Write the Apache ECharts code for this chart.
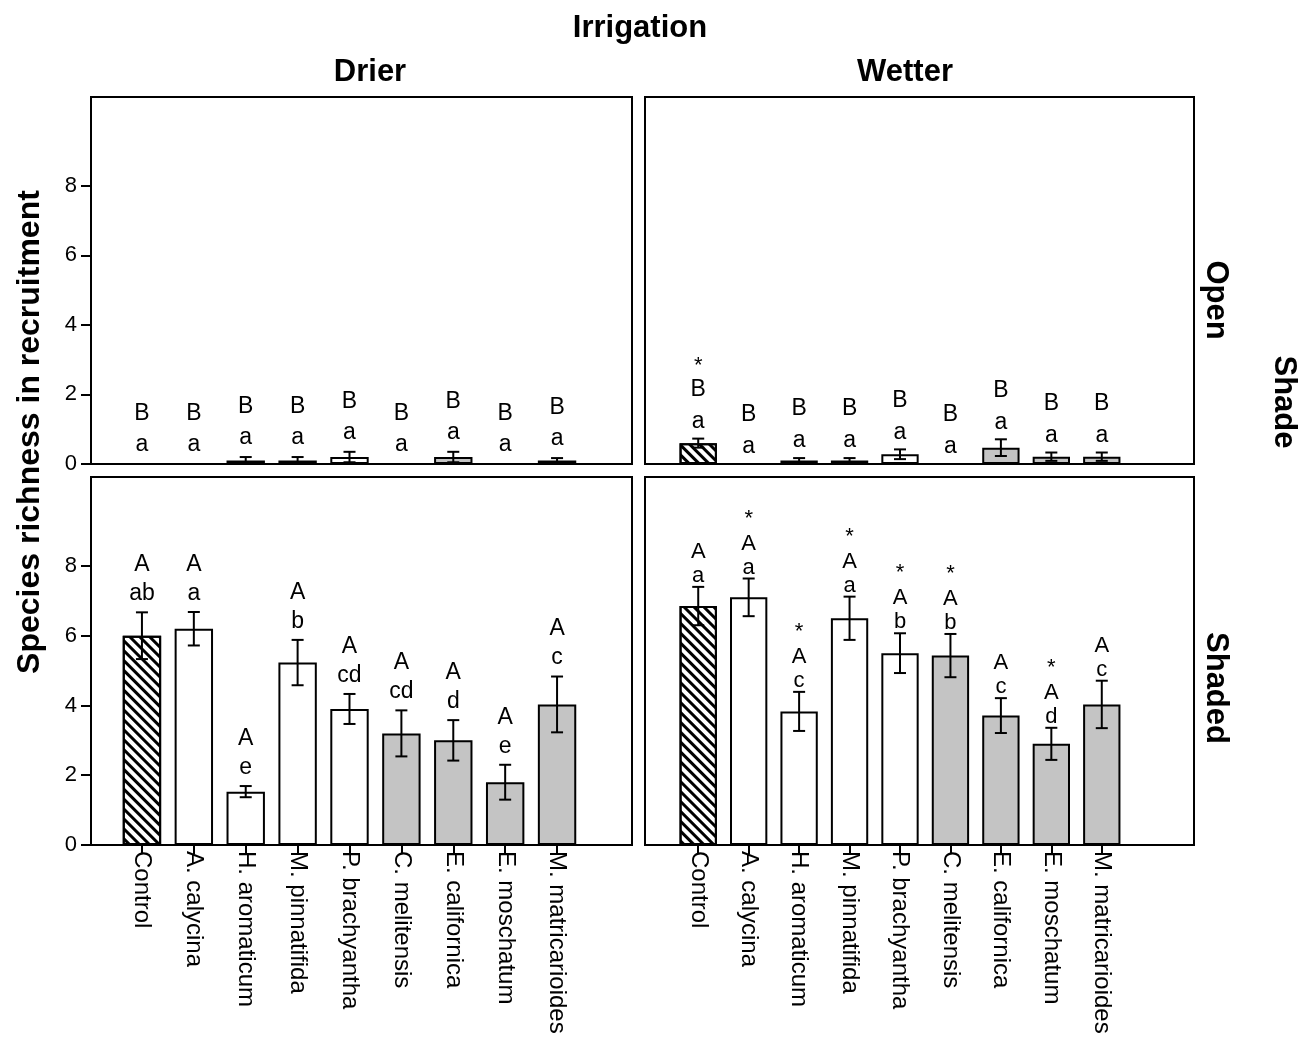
<!DOCTYPE html>
<html lang="en">
<head>
<meta charset="UTF-8" />
<title>Species richness in recruitment</title>
<script src="https://cdn.jsdelivr.net/npm/echarts@6/dist/echarts.min.js"></script>
<style>
  html, body { margin: 0; padding: 0; background: #fff; }
</style>
</head>
<body>
<div id="main" style="width: 1309px; height: 1038px"></div>
<script>
// species on the x axis
var species = ['Control', 'A. calycina', 'H. aromaticum', 'M. pinnatifida', 'P. brachyantha',
  'C. melitensis', 'E. californica', 'E. moschatum', 'M. matricarioides'];
// plant group of each species (decides fill)
var speciesType = ['control', 'white', 'white', 'white', 'white', 'grey', 'grey', 'grey', 'grey'];

// Open / Drier
var openDrier = [0, 0, 0.1, 0.1, 0.2, 0, 0.2, 0, 0.1];
var openDrierSE = [0, 0, 0.1, 0.1, 0.15, 0, 0.15, 0, 0.07];
var openDrierStar = ['', '', '', '', '', '', '', '', ''];
var openDrierUpper = ['B', 'B', 'B', 'B', 'B', 'B', 'B', 'B', 'B'];
var openDrierLower = ['a', 'a', 'a', 'a', 'a', 'a', 'a', 'a', 'a'];

// Open / Wetter
var openWetter = [0.6, 0, 0.1, 0.1, 0.28, 0, 0.47, 0.21, 0.21];
var openWetterSE = [0.13, 0, 0.07, 0.07, 0.14, 0, 0.24, 0.12, 0.12];
var openWetterStar = ['*', '', '', '', '', '', '', '', ''];
var openWetterUpper = ['B', 'B', 'B', 'B', 'B', 'B', 'B', 'B', 'B'];
var openWetterLower = ['a', 'a', 'a', 'a', 'a', 'a', 'a', 'a', 'a'];

// Shaded / Drier
var shadedDrier = [6.0, 6.2, 1.53, 5.23, 3.9, 3.2, 3.0, 1.8, 4.03];
var shadedDrierSE = [0.67, 0.48, 0.16, 0.65, 0.43, 0.66, 0.58, 0.5, 0.8];
var shadedDrierStar = ['', '', '', '', '', '', '', '', ''];
var shadedDrierUpper = ['A', 'A', 'A', 'A', 'A', 'A', 'A', 'A', 'A'];
var shadedDrierLower = ['ab', 'a', 'e', 'b', 'cd', 'cd', 'd', 'e', 'c'];

// Shaded / Wetter
var shadedWetter = [6.85, 7.1, 3.83, 6.5, 5.5, 5.43, 3.71, 2.9, 4.03];
var shadedWetterSE = [0.55, 0.54, 0.56, 0.62, 0.57, 0.62, 0.5, 0.46, 0.68];
var shadedWetterStar = ['', '*', '*', '*', '*', '*', '', '*', ''];
var shadedWetterUpper = ['A', 'A', 'A', 'A', 'A', 'A', 'A', 'A', 'A'];
var shadedWetterLower = ['a', 'a', 'c', 'a', 'b', 'b', 'c', 'd', 'c'];

var yTicks = [0, 2, 4, 6, 8];

var FONT = 'Liberation Sans, Arial, sans-serif';

// "\\\\" hatching for the control bars
var hatch = {
  symbol: 'rect', symbolSize: 1, color: '#000',
  dashArrayX: [1, 0], dashArrayY: [3, 4], rotation: Math.PI / 4
};
function fillFor(t) {
  if (t === 'control') return { color: '#fff', decal: hatch };
  if (t === 'grey') return { color: '#c4c4c4' };
  return { color: '#fff' };
}

var panels = [
  { vals: openDrier, se: openDrierSE, star: openDrierStar, upper: openDrierUpper, lower: openDrierLower,
    frame: [91, 97, 541, 367], bars: [116, 467], yLabels: true, xLabels: false,
    txt: { size: 23, lh: 31, up: 4, slh: 18 } },
  { vals: openWetter, se: openWetterSE, star: openWetterStar, upper: openWetterUpper, lower: openWetterLower,
    frame: [645, 97, 549, 367], bars: [673, 454], yLabels: false, xLabels: false,
    txt: { size: 23, lh: 32, up: 1, slh: 16 } },
  { vals: shadedDrier, se: shadedDrierSE, star: shadedDrierStar, upper: shadedDrierUpper, lower: shadedDrierLower,
    frame: [91, 477, 541, 368], bars: [116, 467], yLabels: true, xLabels: true,
    txt: { size: 23, lh: 29, up: 4, slh: 18 } },
  { vals: shadedWetter, se: shadedWetterSE, star: shadedWetterStar, upper: shadedWetterUpper, lower: shadedWetterLower,
    frame: [645, 477, 549, 368], bars: [673, 454], yLabels: false, xLabels: true,
    txt: { size: 22, lh: 24, up: -1, slh: 26 } }
];

var grid = [], xAxis = [], yAxis = [], series = [];

// frames (0-3)
panels.forEach(function (p, k) {
  grid.push({ left: p.frame[0], top: p.frame[1], width: p.frame[2], height: p.frame[3],
    show: true, borderColor: '#000', borderWidth: 2, backgroundColor: 'transparent' });
  xAxis.push({ gridIndex: k, type: 'value', show: false });
  yAxis.push({ gridIndex: k, type: 'value', show: false });
});

// bar grids (4-7)
panels.forEach(function (p, k) {
  var g = k + 4;
  grid.push({ left: p.bars[0], top: p.frame[1], width: p.bars[1], height: p.frame[3] });
  xAxis.push({
    gridIndex: g, type: 'category', data: species, boundaryGap: true,
    axisLine: { show: false },
    axisTick: { show: p.xLabels, alignWithLabel: true, length: 9, lineStyle: { color: '#000', width: 2 } },
    axisLabel: { show: p.xLabels, rotate: -90, interval: 0, fontSize: 24, color: '#000', fontFamily: FONT, margin: 6 }
  });
  yAxis.push({
    gridIndex: g, type: 'value', min: 0, max: 10.55, show: p.yLabels,
    offset: p.bars[0] - p.frame[0],
    axisLine: { show: false },
    axisTick: { show: true, length: 10, customValues: yTicks, lineStyle: { color: '#000', width: 2 } },
    axisLabel: { customValues: yTicks, fontSize: 22, color: '#000', fontFamily: FONT, margin: 14 },
    splitLine: { show: false }
  });

  series.push({
    type: 'bar', xAxisIndex: g, yAxisIndex: g, barWidth: '74%', z: 2,
    data: p.vals.map(function (v, i) {
      var s = fillFor(speciesType[i]);
      s.borderColor = '#000';
      s.borderWidth = 2;
      return { value: v, itemStyle: s };
    })
  });

  // error bars + significance letters
  series.push({
    type: 'custom', xAxisIndex: g, yAxisIndex: g, z: 5, clip: false,
    data: p.vals.map(function (v, i) { return [i, v - p.se[i], v + p.se[i]]; }),
    renderItem: function (params, api) {
      var i = params.dataIndex;
      var hi = api.coord([i, api.value(2)]);
      var lo = api.coord([i, api.value(1)]);
      var x = hi[0], cap = 6;
      var kids = [];
      if (api.value(2) - api.value(1) > 0.001) {
        var ls = { stroke: '#000', lineWidth: 2 };
        kids.push({ type: 'line', shape: { x1: x, y1: hi[1], x2: x, y2: lo[1] }, style: ls });
        kids.push({ type: 'line', shape: { x1: x - cap, y1: hi[1], x2: x + cap, y2: hi[1] }, style: ls });
        kids.push({ type: 'line', shape: { x1: x - cap, y1: lo[1], x2: x + cap, y2: lo[1] }, style: ls });
      }
      var parts = [];
      if (p.star[i]) parts.push('{s|*}');
      parts.push('{t|' + p.upper[i] + '}');
      parts.push('{t|' + p.lower[i] + '}');
      kids.push({
        type: 'text',
        style: {
          text: parts.join('\n'), x: x, y: hi[1] - p.txt.up,
          align: 'center', verticalAlign: 'bottom', fill: '#000',
          rich: {
            s: { fontSize: 22, lineHeight: p.txt.slh, fontFamily: FONT, fill: '#000' },
            t: { fontSize: p.txt.size, lineHeight: p.txt.lh, fontFamily: FONT, fill: '#000' }
          }
        }
      });
      return { type: 'group', children: kids };
    }
  });
});

function label(text, x, y, size, rot) {
  return {
    type: 'text', x: x, y: y, rotation: rot || 0,
    style: { text: text, align: 'center', verticalAlign: 'middle', fill: '#000',
      font: 'bold ' + size + 'px ' + FONT }
  };
}

var chart = echarts.init(document.getElementById('main'), null, { renderer: 'canvas' });
chart.setOption({
  animation: false,
  backgroundColor: '#fff',
  grid: grid,
  xAxis: xAxis,
  yAxis: yAxis,
  series: series,
  graphic: [
    label('Irrigation', 640, 28, 31),
    label('Drier', 370, 72, 31),
    label('Wetter', 905, 72, 31),
    label('Species richness in recruitment', 30, 432, 32, Math.PI / 2),
    label('Open', 1216, 300, 31, -Math.PI / 2),
    label('Shaded', 1216, 688, 31, -Math.PI / 2),
    label('Shade', 1284, 402, 31, -Math.PI / 2)
  ]
});
</script>
</body>
</html>
